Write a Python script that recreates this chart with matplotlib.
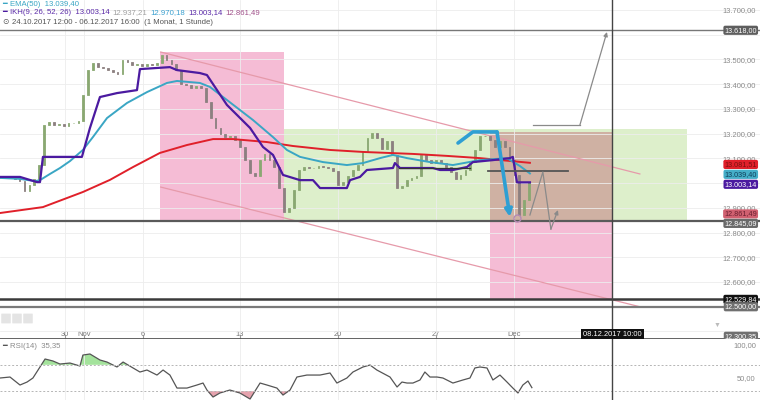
import numpy as np
import matplotlib
matplotlib.use('Agg')
import matplotlib.pyplot as plt
from matplotlib.patches import Rectangle, FancyBboxPatch
from matplotlib.transforms import blended_transform_factory

plt.rcParams['font.family'] = ['Liberation Sans', 'DejaVu Sans']

# x axis = trading days counted from 24.10.2017 12:00
tick_pos = [3.3, 4.3, 7.3, 12.25, 17.25, 22.25, 26.25]
tick_lab = ['30', 'Nov', '6', '13', '20', '27', 'Dec']

# price closes, one value per quarter trading day
closes = [13021, 13025, 13021, 13017, 13008, 12968, 12992, 13017, 13073, 13235,
          13247, 13235, 13239, 13231, 13243, 13243, 13251, 13356, 13457, 13486,
          13469, 13465, 13457, 13449, 13441, 13498, 13490, 13478, 13482, 13473,
          13482, 13478, 13486, 13518, 13498, 13482, 13457, 13401, 13397, 13385,
          13393, 13385, 13328, 13263, 13223, 13199, 13186, 13190, 13174, 13146,
          13093, 13041, 13029, 13093, 13118, 13093, 13065, 12980, 12883, 12899,
          12972, 13053, 13065, 13061, 13061, 13069, 13065, 13061, 13049, 12992,
          13004, 13029, 13053, 13073, 13130, 13182, 13203, 13182, 13138, 13170,
          13114, 12980, 12988, 13012, 13021, 13029, 13114, 13093, 13081, 13093,
          13081, 13065, 13045, 13017, 13033, 13053, 13085, 13134, 13190, 13190,
          13174, 13146, 13170, 13146, 13093, 13033, 12871, 12932, 13004]
bar_step = 0.25

sma_t = [0, 2.19, 4.23, 5.61, 6.79, 8.16, 9.54, 10.87, 11.89, 13.62, 14.95, 16.84,
         18.52, 21.07, 22.81, 24.49, 27.04]
sma_v = [12879, 12903, 12964, 13013, 13065, 13122, 13154, 13178, 13178, 13166, 13150,
         13134, 13126, 13118, 13110, 13101, 13082]

ema_t = [0, 1.02, 1.79, 2.04, 2.55, 3.06, 3.57, 4.23, 4.74, 5.46, 6.48, 7.5, 8.52, 9.03,
         10.2, 10.71, 11.58, 12.91, 13.93, 14.64, 15.31, 16.48, 17.7, 18.52, 19.39, 20.05,
         20.77, 21.94, 23.11, 24.49, 25.87, 26.53, 27.04]
ema_v = [13021, 13017, 13008, 13012, 13037, 13061, 13089, 13134, 13186, 13263, 13324,
         13368, 13405, 13413, 13405, 13389, 13336, 13255, 13186, 13134, 13106, 13085,
         13073, 13081, 13101, 13114, 13101, 13085, 13073, 13093, 13101, 13069, 13039]

ikh_t = [0, 1.02, 1.89, 2.04, 2.19, 4.18, 4.59, 5.1, 5.97, 6.99, 7.14, 8.67, 9.03, 10.2,
         10.56, 11.58, 12.76, 13.42, 13.93, 14.44, 15.31, 15.97, 16.33, 17.7, 17.86, 18.37,
         18.72, 20.05, 20.15, 20.41, 22.09, 22.45, 23.11, 23.83, 24.13, 25.15, 26.02,
         26.17, 26.38, 27.04]
ikh_v = [13025, 13025, 13004, 13004, 13106, 13106, 13223, 13348, 13364, 13376, 13461,
         13469, 13457, 13445, 13437, 13316, 13223, 13146, 13114, 13033, 13012, 13012,
         12980, 12980, 13012, 13025, 13053, 13061, 13081, 13061, 13061, 13053, 13053,
         13065, 13085, 13093, 13101, 13106, 13003, 13003]

rsi_t = [0, 0.51, 1.02, 1.38, 1.68, 2.04, 2.3, 2.7, 3.06, 3.57, 4.08, 4.23, 4.59, 5.1,
         5.46, 5.97, 6.28, 6.79, 7.14, 7.5, 8.01, 8.32, 8.67, 9.03, 9.54, 10.05, 10.36,
         10.56, 10.87, 11.22, 11.73, 12.24, 12.76, 13.27, 13.62, 14.13, 14.44, 14.8, 15.15,
         15.66, 16.33, 16.84, 17.19, 17.7, 18.01, 18.52, 18.88, 19.23, 19.9, 20.26, 20.51,
         20.77, 21.07, 21.43, 21.68, 21.94, 22.3, 22.6, 23.11, 23.62, 23.98, 24.23, 24.49,
         24.85, 25.15, 25.51, 25.87, 26.17, 26.43, 26.68, 26.94, 27.14]
rsi_v = [50, 51.5, 39.4, 43.9, 50, 66.7, 78.8, 75.8, 71.2, 72.7, 68.2, 84.8, 86.4, 77.3,
         74.2, 66.7, 74.2, 65.2, 59.1, 62.1, 54.5, 62.1, 54.5, 34.8, 34.8, 39.4, 42.4, 31.8,
         21.2, 27.3, 31.8, 27.3, 18.2, 42.4, 39.4, 34.8, 24.2, 31.8, 51.5, 54.5, 54.5, 57.6,
         42.4, 50, 59.1, 66.7, 69.7, 62.1, 51.5, 36.4, 43.9, 42.4, 42.4, 47, 59.1, 51.5,
         51.5, 50, 42.4, 47, 50, 65.2, 66.7, 65.2, 47, 54.5, 43.9, 34.8, 27.3, 39.4, 45.5,
         35.4]

# drawn zones: (t0, t1, p0, p1, colour)
zones = [(8.16, 14.49, 12845, 13530, '#f5bcd5'),
         (14.49, 35.05, 12845, 13220, '#ddefcb'),
         (25.0, 31.28, 12845, 13205, '#cfb1a3'),
         (25.0, 31.28, 12530, 12845, '#f5bcd5')]
channel_t = [8.2, 32.65]
channel_up = [13530, 13037]
channel_lo = [12984, 12500]
blue_t = [23.37, 24.13, 25.36, 26.02]
blue_v = [13162, 13207, 13207, 12863]
zig_t = [27.04, 27.7, 28.11, 28.47]
zig_v = [12871, 13045, 12814, 12891]
target_t = [27.19, 29.59, 30.97]
target_v = [13235, 13235, 13611]
cross_t = 31.25

full_levels = [13618.00, 12845.09, 12529.84, 12500.00]
full_cols = ['#777777', '#5a5a5a', '#3a3a3a', '#7a7a7a']
full_lw = [1.0, 1.6, 1.8, 1.6]
short_levels = [(20.36, 23.98, 13061, '#333333', 0.9), (24.9, 28.98, 13049, '#555555', 1.3)]

grid_levels = list(range(12400, 13800, 100))
shown_levels = [12600, 12700, 12800, 12900, 13100, 13200, 13300, 13400, 13500, 13700]

# (value, text, box colour, text colour, label offset in price units)
price_boxes = [(13618.00, '13.618,00', '#5e5e5e', 'white', 0),
               (13081.51, '13.081,51', '#e0202a', '#7a1010', -6),
               (13039.40, '13.039,40', '#45aec8', '#10405a', -4),
               (13003.14, '13.003,14', '#4b1aa0', 'white', -8),
               (12861.49, '12.861,49', '#d06070', '#6a2030', 14),
               (12845.09, '12.845,09', '#6a6a6a', 'white', -8),
               (12529.84, '12.529,84', '#111111', 'white', 0),
               (12500.00, '12.500,00', '#707070', 'white', 0)]


def de(v):
    return f'{v:,.2f}'.replace(',', 'X').replace('.', ',').replace('X', '.')


fig = plt.figure(figsize=(7.6, 4.0), dpi=100)
ax = fig.add_axes([0, 61 / 400, 1, 339 / 400])
rx = fig.add_axes([0, 0, 1, 61 / 400], sharex=ax)

ax.set_xlim(0, 38.78)
ax.set_ylim(12369.6, 13740.4)
rx.set_ylim(16.7, 109.1)

for a in (ax, rx):
    for s in a.spines.values():
        s.set_visible(False)
ax.spines['bottom'].set_visible(True)
ax.spines['bottom'].set_color('#555555')
ax.spines['bottom'].set_linewidth(2)

# grid + axes
ax.set_yticks(grid_levels, [de(v) if v in shown_levels else '' for v in grid_levels])
ax.yaxis.tick_right()
ax.tick_params(axis='y', direction='in', length=0, pad=-3, labelsize=5.4, labelcolor='#8a8a8a')
for lbl in ax.get_yticklabels():
    lbl.set_horizontalalignment('right')
ax.set_xticks(tick_pos, tick_lab)
ax.tick_params(axis='x', direction='in', length=3, pad=-6, labelsize=5.4,
               labelcolor='#777777', color='#999999')
ax.grid(True, color='#ededed', lw=0.6)
rx.grid(True, axis='x', color='#ededed', lw=0.6)
rx.tick_params(axis='x', length=0, labelbottom=False)
rx.set_yticks([100, 50], ['100,00', '50,00'])
rx.yaxis.tick_right()
rx.tick_params(axis='y', direction='in', length=0, pad=-3, labelsize=5.4, labelcolor='#8a8a8a')
for lbl in rx.get_yticklabels():
    lbl.set_horizontalalignment('right')

# zones and channel
for t0, t1, p0, p1, c in zones:
    ax.add_patch(Rectangle((t0, p0), t1 - t0, p1 - p0, color=c, lw=0, zorder=1))
ax.plot(channel_t, channel_up, color='#e69aaa', lw=0.9, zorder=2)
ax.plot(channel_t, channel_lo, color='#e69aaa', lw=0.9, zorder=2)

# candles
c = np.array(closes, dtype=float)
o = np.r_[c[0], c[:-1]]
bt = np.arange(len(c)) * bar_step
up = c >= o
ax.bar(bt[up], (c - o)[up], bottom=o[up], width=0.09, color='#8aa872', ec='#8aa872', lw=0.6, zorder=3)
ax.bar(bt[~up], (c - o)[~up], bottom=o[~up], width=0.09, color='#8c8080', ec='#8c8080', lw=0.6, zorder=3)

# indicators
ax.plot(sma_t, sma_v, color='#e0202a', lw=1.4, zorder=4)
ax.plot(ema_t, ema_v, color='#3aa6c4', lw=1.4, zorder=4)
ax.plot(ikh_t, ikh_v, color='#4b1aa0', lw=1.6, zorder=4)

# levels
for v, col, lw in zip(full_levels, full_cols, full_lw):
    ax.axhline(v, color=col, lw=lw, zorder=5)
for t0, t1, v, col, lw in short_levels:
    ax.plot([t0, t1], [v, v], color=col, lw=lw, zorder=5)

# drawings
ax.plot(blue_t[:-1], blue_v[:-1], color='#2f9fd3', lw=2.6, zorder=6, solid_capstyle='round')
ax.annotate('', xy=(blue_t[-1], blue_v[-1]), xytext=(blue_t[-2], blue_v[-2]),
            arrowprops=dict(arrowstyle='-|>', color='#2f9fd3', lw=2.6, mutation_scale=10,
                            shrinkA=0, shrinkB=0), zorder=6)
ax.plot(zig_t[:-1], zig_v[:-1], color='#8a8a8a', lw=0.9, zorder=6)
ax.annotate('', xy=(zig_t[-1], zig_v[-1]), xytext=(zig_t[-2], zig_v[-2]),
            arrowprops=dict(arrowstyle='-|>', color='#8a8a8a', lw=0.9, mutation_scale=6,
                            shrinkA=0, shrinkB=0), zorder=6)
ax.plot(target_t[:-1], target_v[:-1], color='#8a8a8a', lw=0.9, zorder=6)
ax.annotate('', xy=(target_t[-1], target_v[-1]), xytext=(target_t[-2], target_v[-2]),
            arrowprops=dict(arrowstyle='-|>', color='#8a8a8a', lw=0.9, mutation_scale=6,
                            shrinkA=0, shrinkB=0), zorder=6)
ax.plot([26.38], [12858], 'o', mfc='none', mec='#b48ab4', ms=5, zorder=6)

# crosshair
ax.axvline(cross_t, color='#444444', lw=1, zorder=7)
rx.axvline(cross_t, color='#444444', lw=1, zorder=7)

# right price boxes
tr = blended_transform_factory(ax.transAxes, ax.transData)
for v, txt, fc, tc, off in price_boxes:
    ax.text(0.996, v + off, txt, transform=tr, ha='right', va='center', fontsize=5.2, color=tc,
            zorder=9, bbox=dict(boxstyle='round,pad=0.15,rounding_size=0.25', fc=fc, ec='none'))
ax.text(0.996, 0.008, '12.300,35', transform=ax.transAxes, ha='right', va='center', fontsize=5.2,
        color='white', zorder=9, bbox=dict(boxstyle='round,pad=0.15,rounding_size=0.25', fc='#707070', ec='none'))
ax.text(cross_t, 0.014, '08.12.2017 10:00', transform=blended_transform_factory(ax.transData, ax.transAxes),
        ha='center', va='center', fontsize=5.4, color='white', zorder=9,
        bbox=dict(boxstyle='square,pad=0.3', fc='#111111', ec='none'))

# RSI
rt = np.array(rsi_t)
rv = np.array(rsi_v)
rx.fill_between(rt, rv, 70, where=rv > 70, interpolate=True, color='#a4e39c', lw=0)
rx.fill_between(rt, rv, 30, where=rv < 30, interpolate=True, color='#e5a2ad', lw=0)
rx.plot(rt, rv, color='#555555', lw=0.9)
for lvl in (70, 30):
    rx.axhline(lvl, color='#b5b5b5', lw=0.7, ls=(0, (2, 2)))

# header texts
fig.canvas.draw()
rend = fig.canvas.get_renderer()


def text_row(y, parts, x=2):
    for s, col in parts:
        t = fig.text(x / 760, 1 - y / 400, s, color=col, fontsize=5.6, ha='left', va='center')
        x += t.get_window_extent(rend).width + 3


text_row(4, [('━', '#3aa6c4'), ('EMA(50)  13.039,40', '#3aa6c4')])
text_row(13, [('━', '#4b1aa0'), ('IKH(9, 26, 52, 26)  13.003,14', '#5a2aa8'), ('12.937,21', '#a0a0a0'),
              ('12.970,18', '#3aa0d0'), ('13.003,14', '#5a2aa8'), ('12.861,49', '#a0508a')])
text_row(22, [('⊙', '#555555'), ('24.10.2017 12:00 - 06.12.2017 16:00', '#555555'),
              (' (1 Monat, 1 Stunde)', '#555555')])
text_row(347, [('━', '#555555'), ('RSI(14)  35,35', '#8a8a8a')])

for bx in (2, 13, 24):
    fig.patches.append(FancyBboxPatch((bx / 760, 1 - 323 / 400), 8 / 760, 9 / 400,
                                      boxstyle='round,pad=0.001', fc='#e4e4e4', ec='none',
                                      transform=fig.transFigure, figure=fig))
fig.text(717 / 760, 1 - 325 / 400, '▼', color='#bbbbbb', fontsize=5, ha='center', va='center')

fig.savefig('out.png', dpi=100)
